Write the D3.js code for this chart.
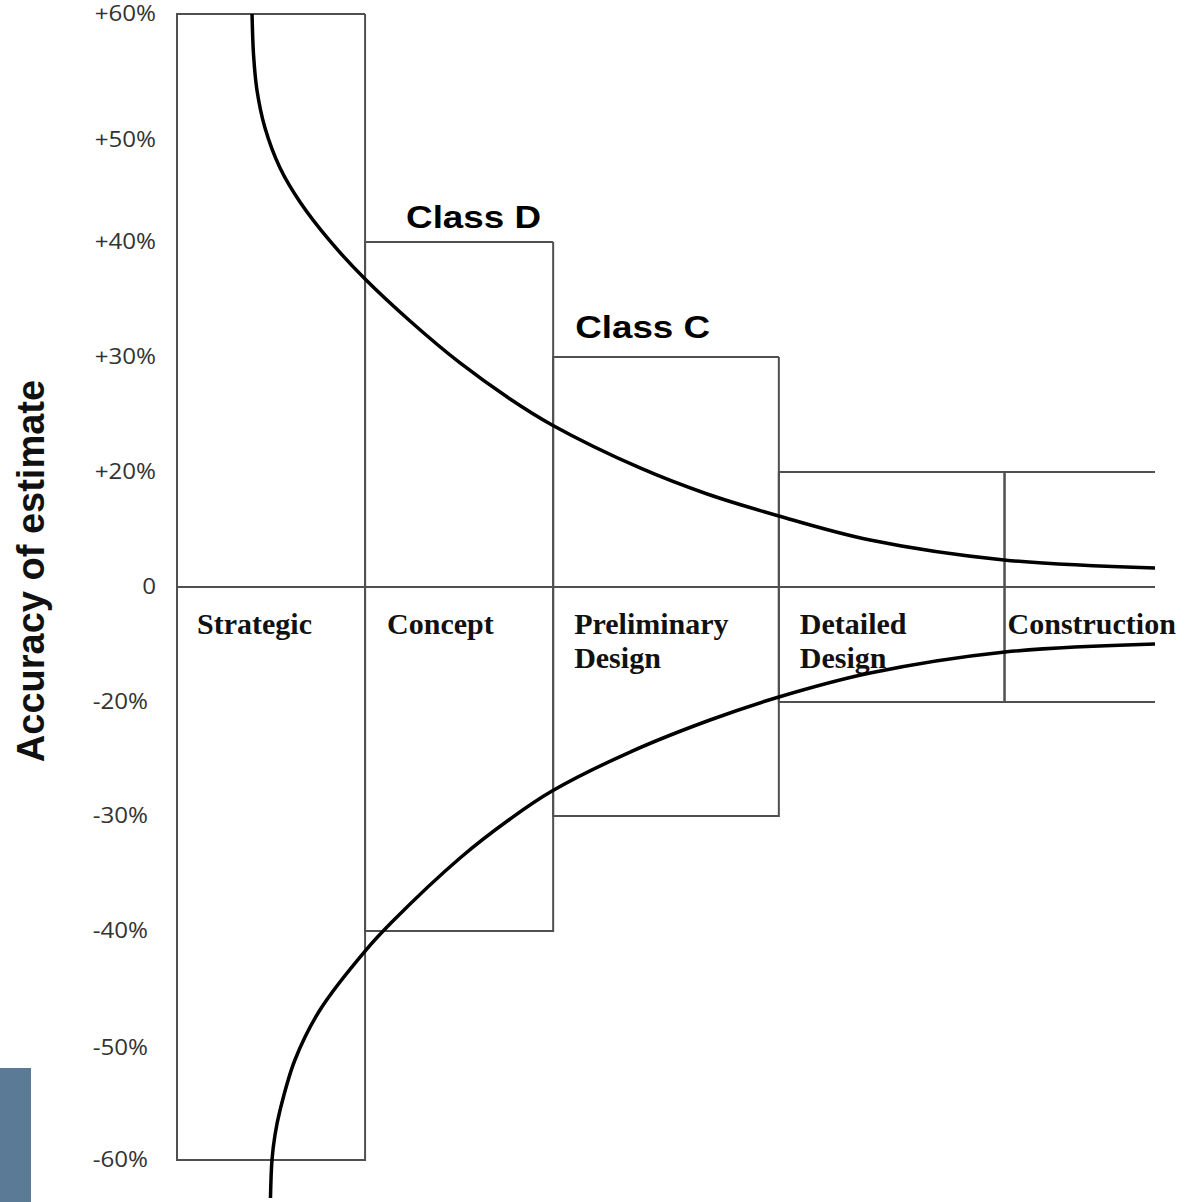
<!DOCTYPE html>
<html>
<head>
<meta charset="utf-8">
<script src="https://cdn.jsdelivr.net/npm/d3@7"></script>
<style>
  body { margin: 0; background: #fff; }
  svg { display: block; }
</style>
</head>
<body>
<div class="chart"></div>
<script>
// phases of the project along the horizontal axis
var phases      = ["Strategic", "Concept", "Preliminary Design", "Detailed Design", "Construction"];
var phaseStart  = [0, 1, 2, 3.2, 4.4];
var phaseEnd    = [1, 2, 3.2, 4.4, 5.2];
var upperBound  = [60, 40, 30, 20, 20];
var lowerBound  = [-60, -40, -30, -20, -20];

var tickValues  = [60, 50, 40, 30, 20, 0, -20, -30, -40, -50, -60];
var tickLabels  = ["+60%", "+50%", "+40%", "+30%", "+20%", "0", "-20%", "-30%", "-40%", "-50%", "-60%"];

var classLabels = ["Class D", "Class C"];
var classPhase  = [1, 2];

// accuracy envelope curves: [phase position, percent]
var upperCurve = [[0.399, 60], [0.407, 56.75], [0.425, 53.97], [0.468, 50.95], [0.548, 47.25],
                  [0.654, 43.92], [0.813, 40.1], [1.0, 36.78], [1.239, 33.13], [1.505, 29.48],
                  [1.771, 26.35], [1.994, 24.09], [2.462, 20.35], [2.819, 16.17], [3.2, 12.35],
                  [3.685, 8.17], [4.397, 4.7], [5.2, 3.3]];
var lowerCurve = [[0.497, -63.39], [0.505, -60], [0.521, -57.77], [0.548, -55.54], [0.627, -51.07],
                  [0.760, -46.75], [1.0, -41.71], [1.148, -39.13], [1.505, -33.65], [1.771, -30.26],
                  [1.994, -27.81], [2.409, -24.39], [2.834, -21.58], [3.2, -19.13], [3.685, -14.96],
                  [4.402, -11.3], [5.2, -9.91]];

var width = 1189;
var height = 1202;

var svg = d3.select(".chart").append("svg").attr("width", width).attr("height", height);

var x = d3.scaleLinear().domain([0, 5.2]).range([177, 1155]);
// the original axis is not linear: the band 0..20% is squeezed
var y = d3.scaleLinear()
	.domain(tickValues)
	.range([14, 140, 242, 357, 472, 587, 702, 816, 931, 1048, 1160]);

var boxColor = "#505050";

// grey block bottom left
svg.append("rect").attr("x", 0).attr("y", 1068).attr("width", 31).attr("height", 134).attr("fill", "#5a7a95");

// phase boxes
var boxes = svg.append("g").attr("fill", "none").attr("stroke", boxColor).attr("stroke-width", 2);
phases.forEach(function(p, i) {
	var x0 = x(phaseStart[i]), x1 = x(phaseEnd[i]);
	var yt = y(upperBound[i]), yb = y(lowerBound[i]);
	var d = "M" + x1 + "," + yt + "H" + x0 + "V" + yb + "H" + x1;
	if (i < phases.length - 1) d += "V" + yt;
	boxes.append("path").attr("d", d);
});
boxes.append("line")
	.attr("x1", x(0)).attr("x2", x(5.2))
	.attr("y1", y(0)).attr("y2", y(0));

// y axis labels
var axis = d3.axisLeft(y).tickValues(tickValues).tickSize(0).tickPadding(0)
	.tickFormat(function(d, i) { return tickLabels[i]; });
var ag = svg.append("g").attr("transform", "translate(156,0)").call(axis);
ag.select(".domain").remove();
ag.selectAll("text")
	.attr("font-family", "'Open Sans', sans-serif")
	.attr("font-size", 21)
	.attr("fill", "#333")
	.attr("x", function(d) { return d < 0 ? -8 / 1.15 : 0; })
	.attr("transform", "scale(1.15,1)");

// axis title
svg.append("text")
	.attr("transform", "translate(44,571) rotate(-90)")
	.attr("text-anchor", "middle")
	.attr("font-family", "'Liberation Sans', Arial, sans-serif")
	.attr("font-weight", "bold")
	.attr("font-size", 38)
	.attr("fill", "#111")
	.text("Accuracy of estimate");

// phase names
var labelDx = [20, 22, 21, 21, 3];
phases.forEach(function(p, i) {
	var t = svg.append("text")
		.attr("font-family", "'Liberation Serif', 'Times New Roman', serif")
		.attr("font-weight", "bold")
		.attr("font-size", 30)
		.attr("fill", "#111");
	p.split(" ").forEach(function(w, j) {
		t.append("tspan")
			.attr("x", x(phaseStart[i]) + labelDx[i])
			.attr("y", y(0) + 47 + j * 34)
			.text(w);
	});
});

// class labels
var classDx = [41, 22];
var classDy = [-14, -19];
classLabels.forEach(function(c, i) {
	var k = classPhase[i];
	svg.append("text")
		.attr("transform", "translate(" + (x(phaseStart[k]) + classDx[i]) + "," + (y(upperBound[k]) + classDy[i]) + ") scale(1.15,1)")
		.attr("font-family", "'Liberation Sans', Arial, sans-serif")
		.attr("font-weight", "bold")
		.attr("font-size", 32)
		.attr("fill", "#000")
		.text(c);
});

// envelope curves
var curve = d3.line()
	.x(function(d) { return x(d[0]); })
	.y(function(d) { return y(d[1]); })
	.curve(d3.curveCatmullRom.alpha(0.5));

svg.append("path").data([upperCurve])
	.attr("fill", "none").attr("stroke", "#000").attr("stroke-width", 3.5)
	.attr("d", curve);
svg.append("path").data([lowerCurve])
	.attr("fill", "none").attr("stroke", "#000").attr("stroke-width", 3.5)
	.attr("d", curve);
</script>
</body>
</html>
